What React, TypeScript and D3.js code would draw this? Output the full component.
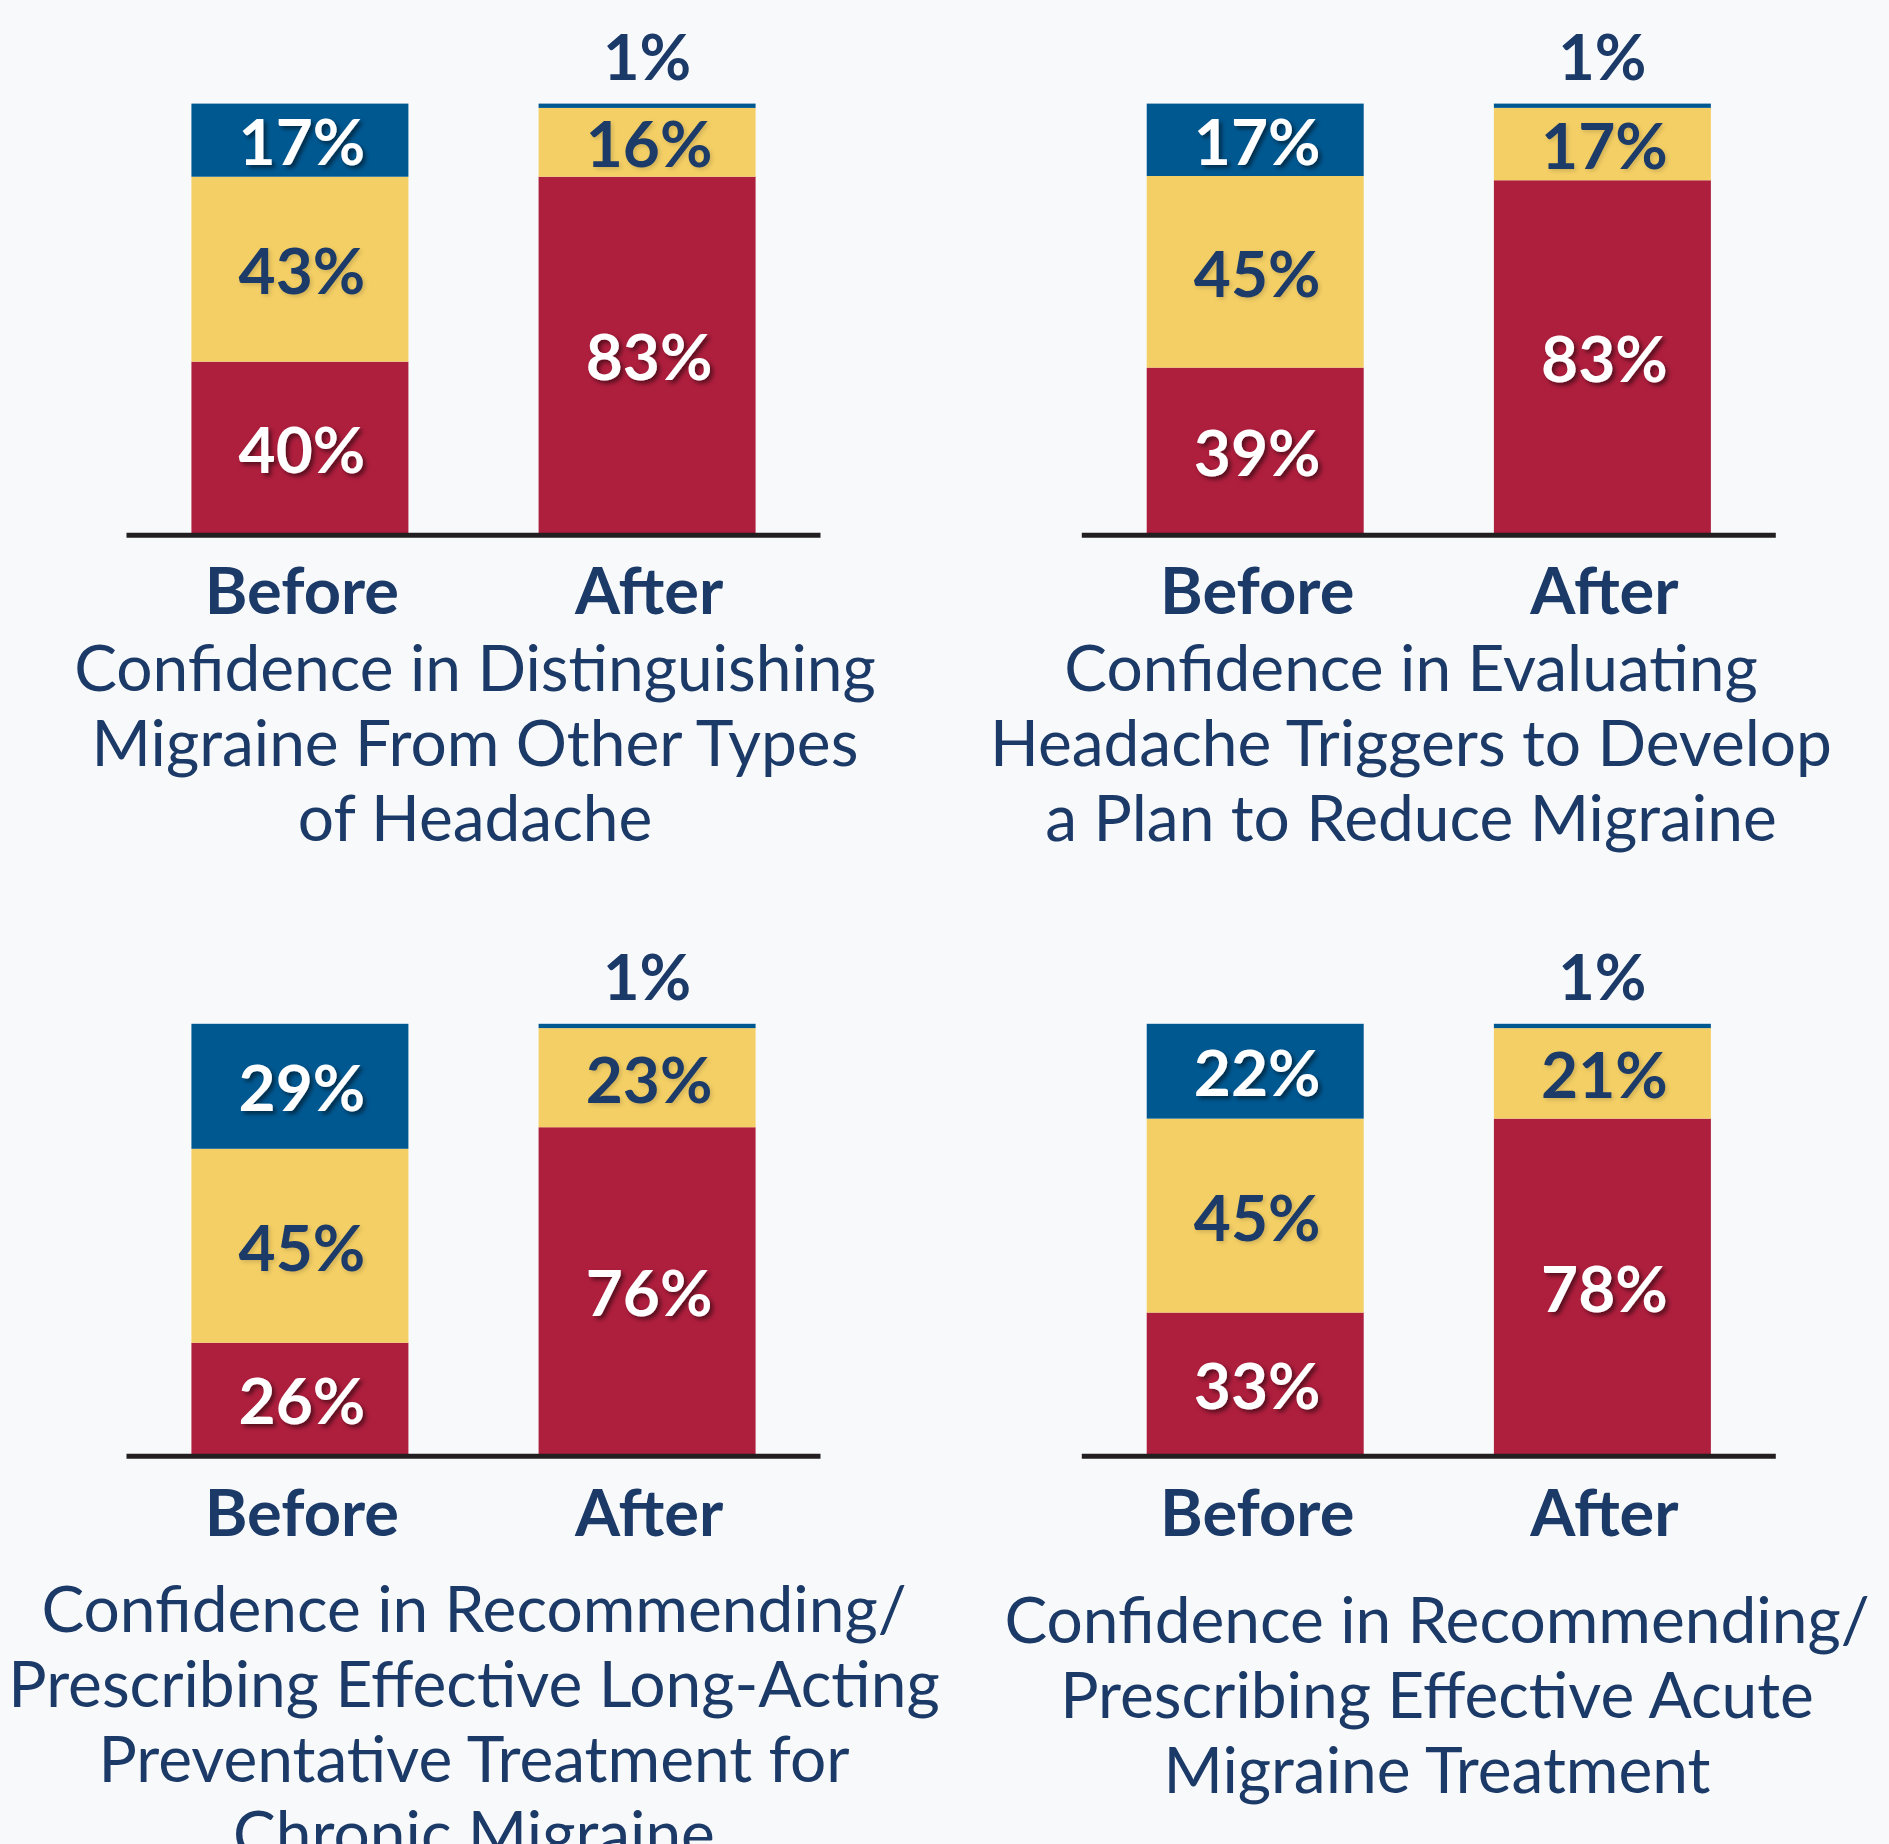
import React from "react";
import * as d3 from "d3";

// ---- data ----
const periods = ["Before", "After"];
const segmentKeys = ["red", "yellow", "blue"]; // stacked bottom -> top

const beforeRed = [40, 39, 26, 33];
const beforeYellow = [43, 45, 45, 45];
const beforeBlue = [17, 17, 29, 22];
const afterRed = [83, 83, 76, 78];
const afterYellow = [16, 17, 23, 21];
const afterBlue = [1, 1, 1, 1];

const panelTitles = [
  ["Confidence in Distinguishing", "Migraine From Other Types", "of Headache"],
  ["Confidence in Evaluating", "Headache Triggers to Develop", "a Plan to Reduce Migraine"],
  ["Confidence in Recommending/", "Prescribing Effective Long-Acting", "Preventative Treatment for", "Chronic Migraine"],
  ["Confidence in Recommending/", "Prescribing Effective Acute", "Migraine Treatment"],
];

// ---- style ----
const W = 1889;
const H = 1844;
const COLORS: Record<string, string> = { red: "#AE1E3D", yellow: "#F4CF65", blue: "#005891" };
const LABEL_COLORS: Record<string, string> = { red: "#FFFFFF", yellow: "#1B3A67", blue: "#FFFFFF" };
const NAVY = "#1B3A67";
const FONT = "Lato, 'Open Sans', sans-serif";

const panels = [
  { x0: 126.5, baseline: 533.7, top: 103.6, titleX: 475, titleY: 691, catY: 614 },
  { x0: 1081.8, baseline: 533.7, top: 103.6, titleX: 1411, titleY: 691, catY: 614 },
  { x0: 126.5, baseline: 1454.8, top: 1023.8, titleX: 474, titleY: 1632, catY: 1536 },
  { x0: 1081.8, baseline: 1454.8, top: 1023.8, titleX: 1437, titleY: 1643, catY: 1536 },
];
const PANEL_W = 694;

function Panel({ idx }: { idx: number }) {
  const p = panels[idx];
  const x = d3
    .scaleBand<string>()
    .domain(periods)
    .range([p.x0, p.x0 + PANEL_W])
    .paddingInner(0.375)
    .paddingOuter(0.187);

  const rows = [
    { period: "Before", red: beforeRed[idx], yellow: beforeYellow[idx], blue: beforeBlue[idx] },
    { period: "After", red: afterRed[idx], yellow: afterYellow[idx], blue: afterBlue[idx] },
  ];

  return (
    <g>
      {rows.map((row) => {
        const total = d3.sum(segmentKeys, (k) => (row as any)[k] as number);
        const y = d3.scaleLinear().domain([0, total]).range([p.baseline, p.top]);
        const stack = d3.stack<any>().keys(segmentKeys)([row]);
        const bx = x(row.period)!;
        const bw = x.bandwidth();
        const cx = bx + bw / 2;
        return (
          <g key={row.period}>
            {stack.map((s) => {
              const d = s[0];
              return (
                <rect
                  key={s.key}
                  x={bx}
                  y={y(d[1])}
                  width={bw}
                  height={y(d[0]) - y(d[1])}
                  fill={COLORS[s.key]}
                />
              );
            })}
            {stack.map((s) => {
              const d = s[0];
              const v = d[1] - d[0];
              const small = y(d[0]) - y(d[1]) < 50;
              if (small) {
                return (
                  <text
                    key={s.key + "l"}
                    x={cx}
                    y={y(d[1]) - 24}
                    textAnchor="middle"
                    fontFamily={FONT}
                    fontWeight={700}
                    fontSize={63}
                    fill={NAVY}
                  >
                    {v + "%"}
                  </text>
                );
              }
              return (
                <text
                  key={s.key + "l"}
                  x={cx + 2}
                  y={(y(d[0]) + y(d[1])) / 2 + 25}
                  textAnchor="middle"
                  fontFamily={FONT}
                  fontWeight={700}
                  fontSize={64}
                  fill={LABEL_COLORS[s.key]}
                  filter={s.key === "yellow" ? "url(#shadowSoft)" : "url(#shadow)"}
                >
                  {v + "%"}
                </text>
              );
            })}
            <text
              x={cx + 2}
              y={p.catY}
              textAnchor="middle"
              fontFamily={FONT}
              fontWeight={700}
              fontSize={65}
              fill={NAVY}
            >
              {row.period}
            </text>
          </g>
        );
      })}
      <line
        x1={p.x0}
        x2={p.x0 + PANEL_W}
        y1={p.baseline + 1.5}
        y2={p.baseline + 1.5}
        stroke="#231F20"
        strokeWidth={5}
      />
      {panelTitles[idx].map((line, i) => (
        <text
          key={i}
          x={p.titleX}
          y={p.titleY + i * 75}
          textAnchor="middle"
          fontFamily={FONT}
          fontWeight={400}
          fontSize={64}
          fill={NAVY}
        >
          {line}
        </text>
      ))}
    </g>
  );
}

export default function App() {
  return (
    <svg
      width={W}
      height={H}
      viewBox={`0 0 ${W} ${H}`}
      style={{ position: "absolute", left: 0, top: 0, display: "block" }}
    >
      <defs>
        <filter id="shadow" x="-20%" y="-20%" width="140%" height="150%">
          <feDropShadow dx={3} dy={3} stdDeviation={2} floodColor="#000000" floodOpacity={0.5} />
        </filter>
        <filter id="shadowSoft" x="-20%" y="-20%" width="140%" height="150%">
          <feDropShadow dx={2} dy={2} stdDeviation={2} floodColor="#000000" floodOpacity={0.15} />
        </filter>
      </defs>
      <rect x={0} y={0} width={W} height={H} fill="#F8F9FA" />
      {panels.map((_, i) => (
        <Panel key={i} idx={i} />
      ))}
    </svg>
  );
}
